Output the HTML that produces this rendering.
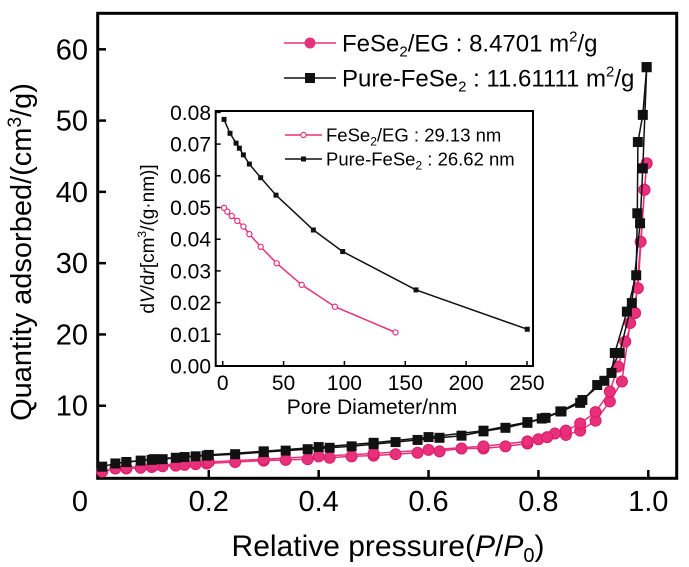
<!DOCTYPE html>
<html><head><meta charset="utf-8"><style>
html,body{margin:0;padding:0;background:#fff;}
svg{display:block;font-family:"Liberation Sans",sans-serif;}
</style></head><body>
<svg id="chart" width="689" height="567" viewBox="0 0 689 567">
<g id="main"></g><g id="inset"></g>
</svg>
<script>
// ---- main chart data ----
const xTicks=[0.2,0.4,0.6,0.8,1.0];
const xTickLabels=["0.2","0.4","0.6","0.8","1.0"];
const yTicks=[10,20,30,40,50,60];
const yTickLabels=["10","20","30","40","50","60"];
const egAdsP=[.006,.03,.05,.076,.096,.116,.14,.156,.176,.196,.248,.30,.34,.38,.42,.46,.50,.54,.58,.62,.66,.70,.74,.78,.80,.83,.85,.876,.904,.93,.952,.967,.981,.993,.997];
const egAdsV=[.75,1.2,1.2,1.3,1.4,1.5,1.6,1.7,1.8,1.9,2.1,2.3,2.4,2.5,2.7,2.9,3.0,3.2,3.4,3.6,4.0,4.0,4.3,4.7,5.3,6.1,5.9,6.5,7.9,10.6,13.4,21.6,26.5,40.3,44];
const egDesP=[.997,.993,.986,.976,.958,.945,.93,.904,.876,.85,.816,.78,.70,.60,.50,.40,.30,.20,.10,.05];
const egDesV=[44,40.3,33,23,19,15.5,12,9.1,7.5,6.5,5.6,5.0,4.3,3.8,3.3,2.9,2.5,2.1,1.6,1.3];
const pureAdsP=[.006,.03,.05,.076,.096,.116,.14,.156,.176,.196,.248,.30,.34,.38,.42,.46,.50,.54,.58,.62,.66,.70,.74,.78,.813,.842,.876,.907,.933,.939,.961,.978,.98,.981,.99,.997];
const pureAdsV=[1.45,1.9,2.1,2.3,2.4,2.5,2.7,2.8,2.9,3.0,3.2,3.5,3.7,3.9,4.1,4.3,4.6,4.9,5.2,5.5,5.8,6.4,6.9,7.6,8.3,9.2,10.4,12.9,14.6,17.4,23.2,28.3,37,47,50.8,57.5];
const pureDesP=[.997,.99,.985,.97,.948,.92,.88,.84,.806,.78,.70,.60,.50,.40,.30,.20,.10,.05];
const pureDesV=[57.5,43.3,35.6,24.4,17.4,13.5,10.8,9.2,8.2,7.7,6.5,5.6,4.8,4.2,3.6,3.1,2.5,2.1];
// ---- inset data ----
const inXTicks=[0,50,100,150,200,250];
const inYTicks=[0,.01,.02,.03,.04,.05,.06,.07,.08];
const inYLabels=["0.00","0.01","0.02","0.03","0.04","0.05","0.06","0.07","0.08"];
const pureD=[1.1,6,11,13.7,17,21.9,31.2,43.8,74.5,98.6,158.8,250.2];
const pureDV=[.0778,.0734,.0703,.0687,.0666,.0637,.0594,.0539,.0429,.0361,.024,.0116];
const egD=[1.1,3.8,7.4,12,17,21.9,31.2,44.4,64.9,92.2,142];
const egDV=[.0499,.0487,.0473,.0458,.044,.0416,.0376,.0324,.0256,.0187,.0106];

const NS="http://www.w3.org/2000/svg";
function mk(parent,tag,attrs,text){const e=document.createElementNS(NS,tag);for(const k in attrs)e.setAttribute(k,attrs[k]);if(text!==undefined)e.textContent=text;parent.appendChild(e);return e;}
const PINK="#e8317a";
const X0=98.9,XS=549.4,Y0=477,YS=7.128;
const mx=p=>X0+p*XS, my=v=>Y0-v*YS;
const main=document.getElementById('main');
let fr=mk(main,'rect',{x:97.7,y:13.3,width:579,height:465,fill:'none',stroke:'#000','stroke-width':3});

xTicks.forEach((t,i)=>{
 let l=mk(main,'line',{x1:mx(t),x2:mx(t),y1:478,y2:470,stroke:'#000','stroke-width':2.5});
 
 let tx=mk(main,'text',{x:mx(t),y:511,'font-size':29,'text-anchor':'middle'},xTickLabels[i]);
 
});
let z=mk(main,'text',{x:80,y:511,'font-size':29,'text-anchor':'middle'},"0");

yTicks.forEach((t,i)=>{
 let l=mk(main,'line',{x1:97.7,x2:106,y1:my(t),y2:my(t),stroke:'#000','stroke-width':2.5});
 
 let tx=mk(main,'text',{x:88,y:my(t)+10,'font-size':29,'text-anchor':'end'},yTickLabels[i]);
 
});
let xl=mk(main,'text',{x:388,y:556,'font-size':30,'text-anchor':'middle'});
xl.innerHTML='Relative pressure(<tspan font-style="italic">P</tspan>/<tspan font-style="italic">P</tspan><tspan font-size="20" dy="6">0</tspan><tspan dy="-6">)</tspan>';

let yl=mk(main,'text',{x:0,y:0,'font-size':29,'text-anchor':'middle',transform:'translate(31,252) rotate(-90)'});
yl.innerHTML='Quantity adsorbed/(cm<tspan font-size="19" dy="-10">3</tspan><tspan dy="10">/g)</tspan>';


function series(g,P,V,fx,fy,color,name,kind,size,w){
 const pts=P.map((p,i)=>fx(p).toFixed(1)+','+fy(V[i]).toFixed(1)).join(' ');
 let pl=mk(g,'polyline',{points:pts,fill:'none',stroke:color,'stroke-width':w});
 
 P.forEach((p,i)=>{
  let m;
  if(kind==='sq'){m=mk(g,'rect',{x:fx(p)-size/2,y:fy(V[i])-size/2,width:size,height:size,fill:'#111'});}
  else if(kind==='ball'){m=mk(g,'circle',{cx:fx(p),cy:fy(V[i]),r:size,fill:PINK,stroke:'#d81b6a','stroke-width':1});}
  else {m=mk(g,'circle',{cx:fx(p),cy:fy(V[i]),r:size,fill:'#fff',stroke:color,'stroke-width':1.2});}
  
 });
}
series(main,egAdsP,egAdsV,mx,my,PINK,'fese2-eg-adsorption','ball',5.5,1.5);
series(main,egDesP,egDesV,mx,my,PINK,'fese2-eg-desorption','ball',5.5,1.5);
series(main,pureAdsP,pureAdsV,mx,my,'#111','pure-fese2-adsorption','sq',10,1.5);
series(main,pureDesP,pureDesV,mx,my,'#111','pure-fese2-desorption','sq',10,1.5);
function legend(g,y,color,kind,html,x1,x2,tx,fs,name,msz){
 let l=mk(g,'line',{x1:x1,x2:x2,y1:y,y2:y,stroke:color,'stroke-width':1.5});
 
 let m;
 const c=(x1+x2)/2;
 if(kind==='sq')m=mk(g,'rect',{x:c-msz/2,y:y-msz/2,width:msz,height:msz,fill:'#111'});
 else if(kind==='ball')m=mk(g,'circle',{cx:c,cy:y,r:msz,fill:PINK});
 else m=mk(g,'circle',{cx:c,cy:y,r:msz,fill:'#fff',stroke:color,'stroke-width':1.2});
 
 let t=mk(g,'text',{x:tx,y:y+fs*0.36,'font-size':fs});t.innerHTML=html;
 
}
legend(main,43,PINK,'ball','FeSe<tspan font-size="15" dy="5">2</tspan><tspan dy="-5">/EG : 8.4701 m</tspan><tspan font-size="15" dy="-10">2</tspan><tspan dy="10">/g</tspan>',284,336,342,24,'legend-fese2-eg',5.5);
legend(main,78,'#111','sq','Pure-FeSe<tspan font-size="15" dy="5">2</tspan><tspan dy="-5"> : 11.61111 m</tspan><tspan font-size="15" dy="-10">2</tspan><tspan dy="10">/g</tspan>',284,336,342,24,'legend-pure-fese2',10);

const ins=document.getElementById('inset');
const IX0=222.7,IXS=1.2172,IY0=366,IYS=3170;
const ix=d=>IX0+d*IXS, iy=v=>IY0-v*IYS;
let ifr=mk(ins,'rect',{x:215.7,y:111,width:317.3,height:255,fill:'#fff',stroke:'#000','stroke-width':2});

inXTicks.forEach(t=>{
 let l=mk(ins,'line',{x1:ix(t),x2:ix(t),y1:366,y2:361,stroke:'#000','stroke-width':1.5});
 
 let tx=mk(ins,'text',{x:ix(t),y:390,'font-size':21,'text-anchor':'middle'},String(t));
 
});
inYTicks.forEach((t,i)=>{
 let l=mk(ins,'line',{x1:215.7,x2:220.7,y1:iy(t),y2:iy(t),stroke:'#000','stroke-width':1.5});
 
 let tx=mk(ins,'text',{x:211,y:iy(t)+7.5,'font-size':21,'text-anchor':'end'},inYLabels[i]);
 
});
let ixl=mk(ins,'text',{x:372,y:414,'font-size':21,'text-anchor':'middle'},'Pore Diameter/nm');

let iyl=mk(ins,'text',{x:0,y:0,'font-size':19,'text-anchor':'middle',transform:'translate(154,239) rotate(-90)'});
iyl.innerHTML='d<tspan font-style="italic">V</tspan>/d<tspan font-style="italic">r</tspan>[cm<tspan font-size="12" dy="-8">3</tspan><tspan dy="8">/(g·nm)]</tspan>';

series(ins,egD,egDV,ix,iy,PINK,'inset-fese2-eg','open',2.6,1.5);
series(ins,pureD,pureDV,ix,iy,'#111','inset-pure-fese2','sq',5,1.5);
legend(ins,135,PINK,'open','FeSe<tspan font-size="12" dy="4">2</tspan><tspan dy="-4">/EG : 29.13 nm</tspan>',285,322,326,18.5,'inset-legend-fese2-eg',2.6);
legend(ins,159,'#111','sq','Pure-FeSe<tspan font-size="12" dy="4">2</tspan><tspan dy="-4"> : 26.62 nm</tspan>',285,322,326,18.5,'inset-legend-pure-fese2',5);
</script>
</body></html>
